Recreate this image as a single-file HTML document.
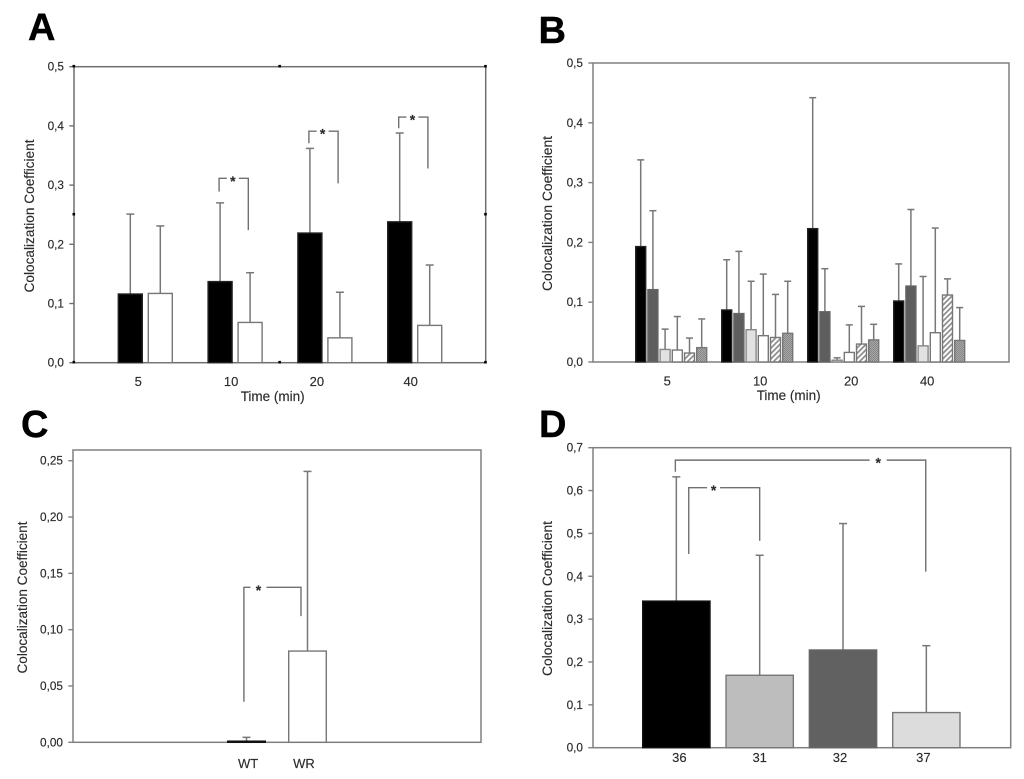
<!DOCTYPE html>
<html lang="en">
<head>
<meta charset="utf-8">
<title>Colocalization Coefficient panels</title>
<style>
html,body{margin:0;padding:0;background:#fff;width:1024px;height:779px;overflow:hidden}
svg{display:block;filter:blur(0.35px)}
text{font-family:"Liberation Sans",Arial,sans-serif;fill:#2b2b2b;stroke:#2b2b2b;stroke-width:0.15px}
.panel-letter{font-size:38px;font-weight:bold;fill:#000;stroke:#000;stroke-width:0.4px}
.axis-title{font-size:13.5px;text-anchor:middle}
</style>
</head>
<body>
<svg id="figure" width="1024" height="779" viewBox="0 0 1024 779" xmlns="http://www.w3.org/2000/svg">
  <defs>
    <pattern id="hatch-fill" patternUnits="userSpaceOnUse" width="3.8" height="3.8" patternTransform="rotate(45)">
      <rect width="3.8" height="3.8" fill="#fff"></rect>
      <rect width="1.7" height="3.8" fill="#8a8a8a"></rect>
    </pattern>
    <pattern id="dot-fill" patternUnits="userSpaceOnUse" width="2" height="2">
      <rect width="2" height="2" fill="#a8a8a8"></rect>
      <rect width="1" height="1" fill="#858585"></rect>
      <rect x="1" y="1" width="1" height="1" fill="#858585"></rect>
    </pattern>
  </defs>
  <rect x="0" y="0" width="1024" height="779" fill="#fff"></rect>

  <text class="panel-letter" x="28" y="40">A</text>
  <text class="panel-letter" x="538.5" y="43">B</text>
  <text class="panel-letter" x="21" y="437">C</text>
  <text class="panel-letter" x="539" y="437">D</text>

  <text class="axis-title" transform="translate(34,216) rotate(-90)" textLength="153" lengthAdjust="spacingAndGlyphs">Colocalization Coefficient</text>
  <text class="axis-title" transform="translate(552,213.5) rotate(-90)" textLength="155" lengthAdjust="spacingAndGlyphs">Colocalization Coefficient</text>
  <text class="axis-title" transform="translate(27,597.5) rotate(-90)" textLength="152" lengthAdjust="spacingAndGlyphs">Colocalization Coefficient</text>
  <text class="axis-title" transform="translate(552,598.5) rotate(-90)" textLength="155" lengthAdjust="spacingAndGlyphs">Colocalization Coefficient</text>

  <text class="axis-title" x="272.7" y="401" textLength="64" lengthAdjust="spacingAndGlyphs">Time (min)</text>
  <text class="axis-title" x="788.7" y="400" textLength="64" lengthAdjust="spacingAndGlyphs">Time (min)</text>
</svg>

<script>
// ---------- Panel A data ----------
const aCategories = ['5', '10', '20', '40'];
const aBlack = [0.116, 0.137, 0.219, 0.238];
const aWhite = [0.117, 0.068, 0.042, 0.063];
const aBlackErrorTop = [0.251, 0.270, 0.362, 0.388];
const aWhiteErrorTop = [0.231, 0.152, 0.119, 0.165];
const aTickValues = [0, 0.1, 0.2, 0.3, 0.4, 0.5];
const aTickLabels = ['0,0', '0,1', '0,2', '0,3', '0,4', '0,5'];
const aBracketGroups = [1, 2, 3];
const aBracketTop = [0.3115, 0.391, 0.415];
const aBracketLeftEnd = [0.289, 0.3706, 0.396];
const aBracketRightEnd = [0.224, 0.303, 0.328];

// ---------- Panel B data ----------
const bCategories = ['5', '10', '20', '40'];
const bSeries1 = [0.193, 0.087, 0.223, 0.102];
const bSeries2 = [0.121, 0.081, 0.084, 0.127];
const bSeries3 = [0.021, 0.054, 0.003, 0.027];
const bSeries4 = [0.020, 0.044, 0.016, 0.049];
const bSeries5 = [0.015, 0.041, 0.030, 0.112];
const bSeries6 = [0.024, 0.048, 0.037, 0.036];
const bSeries1ErrorTop = [0.338, 0.171, 0.442, 0.164];
const bSeries2ErrorTop = [0.253, 0.185, 0.156, 0.255];
const bSeries3ErrorTop = [0.055, 0.135, 0.007, 0.143];
const bSeries4ErrorTop = [0.076, 0.147, 0.062, 0.224];
const bSeries5ErrorTop = [0.040, 0.113, 0.093, 0.139];
const bSeries6ErrorTop = [0.072, 0.135, 0.063, 0.091];
const bTickValues = [0, 0.1, 0.2, 0.3, 0.4, 0.5];
const bTickLabels = ['0,0', '0,1', '0,2', '0,3', '0,4', '0,5'];

// ---------- Panel C data ----------
const cCategories = ['WT', 'WR'];
const cValues = [0.001, 0.081];
const cErrorTop = [0.0044, 0.2405];
const cTickValues = [0, 0.05, 0.10, 0.15, 0.20, 0.25];
const cTickLabels = ['0,00', '0,05', '0,10', '0,15', '0,20', '0,25'];
const cBracketTop = 0.1376;
const cBracketLeftEnd = 0.036;
const cBracketRightEnd = 0.112;

// ---------- Panel D data ----------
const dCategories = ['36', '31', '32', '37'];
const dValues = [0.342, 0.169, 0.228, 0.082];
const dErrorTop = [0.632, 0.449, 0.523, 0.238];
const dTickValues = [0, 0.1, 0.2, 0.3, 0.4, 0.5, 0.6, 0.7];
const dTickLabels = ['0,0', '0,1', '0,2', '0,3', '0,4', '0,5', '0,6', '0,7'];
const dBracketTop = [0.6066, 0.671];
const dBracketLeftEnd = [0.452, 0.644];
const dBracketRightEnd = [0.483, 0.4107];

// ---------- Drawing helpers ----------
const SVG_NS = 'http://www.w3.org/2000/svg';
const root = document.getElementById('figure');
const LINE = '#777';

function mk(tag, parent, props) {
  const el = document.createElementNS(SVG_NS, tag);
  for (const k in props) el.setAttribute(k, props[k]);
  parent.appendChild(el);
  return el;
}
function yScale(p, v) {
  return p.bottom - (v / p.max) * (p.bottom - p.top);
}
function barLeft(p, group, series) {
  return p.start + group * p.step + series * p.pitch;
}
function barCenter(p, group, series) {
  return barLeft(p, group, series) + p.barWidth / 2;
}

function drawFrame(p, g, ticks, labels) {
  const frame = mk('rect', g, {x: p.left, y: p.top, width: p.right - p.left, height: p.bottom - p.top, fill: 'none', stroke: p.frameColor, 'stroke-width': 1.5});
  
  
  ticks.forEach(function (v, i) {
    const y = yScale(p, v);
    const tick = mk('line', g, {x1: p.left - 4.7, x2: p.left, y1: y, y2: y, stroke: p.frameColor, 'stroke-width': 1.4});
    
    
    const label = mk('text', g, {x: p.left - 10, y: y + 4, 'text-anchor': 'end', 'font-size': 11.8});
    label.textContent = labels[i];
    
    
  });
}

function drawSeries(p, g, values, errorTop, seriesIndex, fill, stroke) {
  values.forEach(function (v, i) {
    const x = barLeft(p, i, seriesIndex);
    const cx = barCenter(p, i, seriesIndex);
    const yTop = yScale(p, v);
    const yErr = yScale(p, errorTop[i]);
    const err = mk('line', g, {x1: cx, x2: cx, y1: yTop, y2: yErr, stroke: LINE, 'stroke-width': 1.5});
    
    
    const cap = mk('line', g, {x1: cx - p.cap, x2: cx + p.cap, y1: yErr, y2: yErr, stroke: LINE, 'stroke-width': 1.5});
    
    
    const bar = mk('rect', g, {x: x, y: yTop, width: p.barWidth, height: p.bottom - yTop, fill: fill, stroke: stroke, 'stroke-width': 1.4});
    
    
  });
}

function drawCategoryLabels(p, g, categories, seriesCount, nudges, baseline) {
  categories.forEach(function (c, i) {
    const first = barLeft(p, i, 0);
    const last = barLeft(p, i, seriesCount - 1) + p.barWidth;
    const label = mk('text', g, {x: (first + last) / 2 + nudges[i], y: baseline, 'text-anchor': 'middle', 'font-size': 13});
    label.textContent = c;
    
    
  });
}

function drawBracket(p, g, leftX, rightX, topVal, leftEndVal, rightEndVal, starFrac, gapHalf) {
  const yTop = yScale(p, topVal);
  const starX = leftX + (rightX - leftX) * starFrac;
  const d = 'M' + leftX + ' ' + yScale(p, leftEndVal) + 'V' + yTop + 'H' + (starX - gapHalf) +
            'M' + (starX + gapHalf) + ' ' + yTop + 'H' + rightX + 'V' + yScale(p, rightEndVal);
  const bracket = mk('path', g, {d: d, fill: 'none', stroke: '#707070', 'stroke-width': 1.4});
  
  
  const star = mk('text', g, {x: starX, y: yTop + 7.5, 'text-anchor': 'middle', 'font-size': 14, 'font-weight': 'bold'});
  star.textContent = '*';
  
  
}

function panelGroup() {
  return mk('g', root, {});
}

// ---------- Panel A ----------
const panelA = {left: 74, right: 485.7, top: 66.7, bottom: 362.7, max: 0.5, start: 118.3, step: 89.8, pitch: 30, barWidth: 24, cap: 4, frameColor: '#6f6f6f'};
const groupA = panelGroup();


drawFrame(panelA, groupA, aTickValues, aTickLabels);
drawSeries(panelA, groupA, aBlack, aBlackErrorTop, 0, '#000', '#222');
drawSeries(panelA, groupA, aWhite, aWhiteErrorTop, 1, '#fff', '#777');
drawCategoryLabels(panelA, groupA, aCategories, 2, [-7, -4, -8, -4], 386);
aBracketGroups.forEach(function (grp, i) {
  drawBracket(panelA, groupA, barCenter(panelA, grp, 0) - 1, barCenter(panelA, grp, 1) - 1.8,
    aBracketTop[i], aBracketLeftEnd[i], aBracketRightEnd[i], 0.47, 6);
});
[0, 0.5, 1].forEach(function (fx) {
  [0, 0.5, 1].forEach(function (fy) {
    if (fx === 0.5 && fy === 0.5) return;
    const hx = panelA.left + (panelA.right - panelA.left) * fx;
    const hy = panelA.top + (panelA.bottom - panelA.top) * fy;
    const handle = mk('rect', groupA, {x: hx - 1.5, y: hy - 1.8, width: 2.6, height: 2.6, fill: '#000'});
    
    
  });
});

// ---------- Panel B ----------
const panelB = {left: 593, right: 1009, top: 63, bottom: 362, max: 0.5, start: 635.7, step: 86, pitch: 12.2, barWidth: 10, cap: 3.5, frameColor: '#808080'};
const groupB = panelGroup();


drawFrame(panelB, groupB, bTickValues, bTickLabels);
drawSeries(panelB, groupB, bSeries1, bSeries1ErrorTop, 0, '#000', '#222');
drawSeries(panelB, groupB, bSeries2, bSeries2ErrorTop, 1, '#5e5e5e', '#666');
drawSeries(panelB, groupB, bSeries3, bSeries3ErrorTop, 2, '#e2e2e2', '#888');
drawSeries(panelB, groupB, bSeries4, bSeries4ErrorTop, 3, '#fff', '#777');
drawSeries(panelB, groupB, bSeries5, bSeries5ErrorTop, 4, 'url(#hatch-fill)', '#777');
drawSeries(panelB, groupB, bSeries6, bSeries6ErrorTop, 5, 'url(#dot-fill)', '#777');
drawCategoryLabels(panelB, groupB, bCategories, 6, [-4, 3, 8, -2], 385.5);

// ---------- Panel C ----------
const panelC = {left: 73, right: 481, top: 450, bottom: 742.3, max: 0.2595, start: 227.7, step: 61, pitch: 0, barWidth: 37.6, cap: 4, frameColor: '#808080'};
const groupC = panelGroup();


drawFrame(panelC, groupC, cTickValues, cTickLabels);
const cFills = ['#000', '#fff'];
const cStrokes = ['#111', '#777'];
cValues.forEach(function (v, i) {
  const one = {left: panelC.left, right: panelC.right, top: panelC.top, bottom: panelC.bottom, max: panelC.max, start: panelC.start + i * panelC.step, step: 0, pitch: 0, barWidth: panelC.barWidth, cap: panelC.cap};
  drawSeries(one, groupC, [v], [cErrorTop[i]], 0, cFills[i], cStrokes[i]);
});
drawCategoryLabels(panelC, groupC, cCategories, 1, [1.6, -3.5], 768);
drawBracket(panelC, groupC, barCenter(panelC, 0, 0) - 2.6, barCenter(panelC, 1, 0) - 6.5,
  cBracketTop, cBracketLeftEnd, cBracketRightEnd, 0.255, 8);

// ---------- Panel D ----------
const panelD = {left: 593, right: 1010.7, top: 447.7, bottom: 747.7, max: 0.7, start: 642.7, step: 83.33, pitch: 0, barWidth: 67.3, cap: 4, frameColor: '#808080'};
const groupD = panelGroup();


drawFrame(panelD, groupD, dTickValues, dTickLabels);
const dFills = ['#000', '#bdbdbd', '#616161', '#dcdcdc'];
const dStrokes = ['#111', '#777', '#666', '#777'];
dValues.forEach(function (v, i) {
  const one = {left: panelD.left, right: panelD.right, top: panelD.top, bottom: panelD.bottom, max: panelD.max, start: panelD.start + i * panelD.step, step: 0, pitch: 0, barWidth: panelD.barWidth, cap: panelD.cap};
  drawSeries(one, groupD, [v], [dErrorTop[i]], 0, dFills[i], dStrokes[i]);
});
drawCategoryLabels(panelD, groupD, dCategories, 1, [3, 0, -3, -3], 762);
drawBracket(panelD, groupD, barCenter(panelD, 0, 0) + 12.4, barCenter(panelD, 1, 0),
  dBracketTop[0], dBracketLeftEnd[0], dBracketRightEnd[0], 0.35, 6.5);
drawBracket(panelD, groupD, barCenter(panelD, 0, 0) - 1, barCenter(panelD, 3, 0) - 0.6,
  dBracketTop[1], dBracketLeftEnd[1], dBracketRightEnd[1], 0.81, 8.5);
</script>
</body>
</html>
